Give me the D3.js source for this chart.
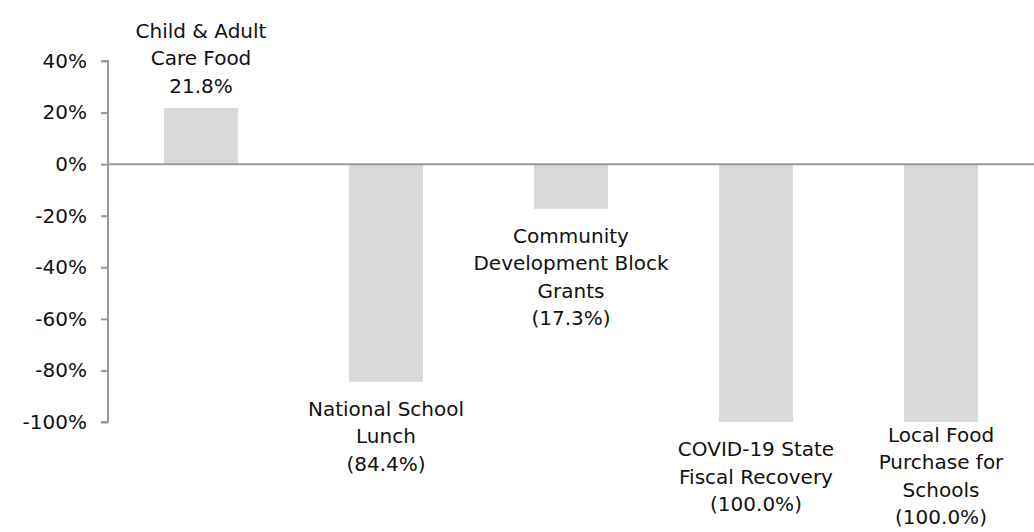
<!DOCTYPE html>
<html>
<head>
<meta charset="utf-8">
<script src="https://cdn.jsdelivr.net/npm/d3@7"></script>
<style>
  body { margin: 0; background: #fff; }
  text { font-family: "DejaVu Sans", sans-serif; fill: #111; }
</style>
</head>
<body>
<div id="chart"></div>
<script>
// data
const programs = ["Child & Adult Care Food", "National School Lunch", "Community Development Block Grants",
                  "COVID-19 State Fiscal Recovery", "Local Food Purchase for Schools"];
const labelLines = [
  ["Child & Adult", "Care Food"],
  ["National School", "Lunch"],
  ["Community", "Development Block", "Grants"],
  ["COVID-19 State", "Fiscal Recovery"],
  ["Local Food", "Purchase for", "Schools"]
];
const changes = [21.8, -84.4, -17.3, -100.0, -100.0];
const yTicks = [-100, -80, -60, -40, -20, 0, 20, 40];

// chart size
const width = 1034, height = 532;
const lineH = 27.5;
const fontSize = 20;

const svg = d3.select("#chart").append("svg")
    .attr("width", width)
    .attr("height", height);

// scales
const x = d3.scaleBand().domain(programs).range([108.5, 1033.5]).paddingInner(0.6).paddingOuter(0.3);
const y = d3.scaleLinear().domain([-100, 40]).range([422, 61]);

// y axis
const yAxis = svg.append("g")
    .attr("transform", "translate(108,0)")
    .call(d3.axisLeft(y).tickValues(yTicks).tickSize(7).tickPadding(14).tickFormat(d => d + "%"));
yAxis.selectAll("path, line").attr("stroke", "#999").attr("stroke-width", 2);
yAxis.select(".domain").attr("d", "M-7," + y(-100) + "H0V" + y(40) + "H-7");
yAxis.selectAll("text").attr("font-size", fontSize).attr("fill", "#111")
    .style("font-family", "'DejaVu Sans', sans-serif");

const rows = programs.map((p, i) => ({ name: p, value: changes[i], lines: labelLines[i] }));

// bars
svg.append("g").selectAll("rect")
  .data(rows)
  .join("rect")
    .attr("x", d => x(d.name))
    .attr("width", x.bandwidth())
    .attr("y", d => y(Math.max(0, d.value)))
    .attr("height", d => Math.abs(y(d.value) - y(0)))
    .attr("fill", "#d9d9d9");

// zero line
svg.append("line")
    .attr("x1", 108).attr("x2", width)
    .attr("y1", y(0)).attr("y2", y(0))
    .attr("stroke", "#999").attr("stroke-width", 2);

// labels: above positive bars, below negative ones (kept inside the picture)
const fmt = d => d.value >= 0 ? d3.format(".1f")(d.value) + "%" : "(" + d3.format(".1f")(-d.value) + "%)";
const lab = svg.append("g").selectAll("text")
  .data(rows)
  .join("text")
    .attr("text-anchor", "middle")
    .attr("font-size", fontSize)
    .attr("x", d => x(d.name) + x.bandwidth() / 2)
    .attr("y", d => {
      const all = d.lines.length + 1;
      if (d.value >= 0) return y(d.value) - 15 - (all - 1) * lineH;
      return Math.min(y(d.value) + 34, height - 8 - (all - 1) * lineH);
    });

lab.each(function(d) {
  const t = d3.select(this);
  const parts = d.lines.concat([fmt(d)]);
  parts.forEach((s, j) => {
    t.append("tspan")
      .attr("x", x(d.name) + x.bandwidth() / 2)
      .attr("dy", j === 0 ? 0 : lineH)
      .text(s);
  });
});
</script>
</body>
</html>
